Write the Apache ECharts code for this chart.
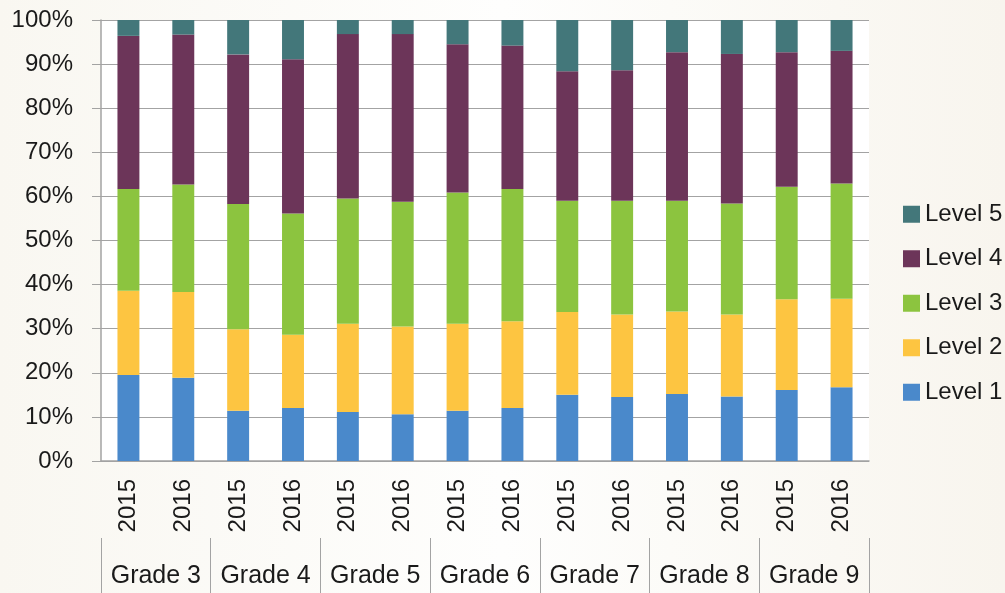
<!DOCTYPE html>
<html>
<head>
<meta charset="utf-8">
<script src="https://cdn.jsdelivr.net/npm/echarts@6/dist/echarts.min.js"></script>
<style>
  html, body { margin: 0; padding: 0; }
  #main { width: 1005px; height: 593px; }
</style>
</head>
<body>
<div id="main"></div>
<script>
var grades = ['Grade 3', 'Grade 4', 'Grade 5', 'Grade 6', 'Grade 7', 'Grade 8', 'Grade 9'];
var years = ['2015', '2016'];
var yTicks = [0, 10, 20, 30, 40, 50, 60, 70, 80, 90, 100];

// percent of students per level, one value per grade/year bar
var level1 = [19.5, 18.9, 11.4, 12.0, 11.1, 10.6, 11.4, 12.0, 15.0, 14.5, 15.2, 14.6, 16.1, 16.7];
var level2 = [19.1, 19.4, 18.5, 16.6, 20.0, 19.9, 19.7, 19.7, 18.8, 18.7, 18.7, 18.6, 20.6, 20.1];
var level3 = [23.1, 24.4, 28.4, 27.5, 28.4, 28.3, 29.8, 30.0, 25.2, 25.8, 25.1, 25.2, 25.5, 26.1];
var level4 = [34.7, 34.0, 33.9, 35.0, 37.3, 38.0, 33.6, 32.5, 29.4, 29.6, 33.7, 33.9, 30.5, 30.1];
var level5 = [3.6, 3.3, 7.8, 8.9, 3.2, 3.2, 5.5, 5.8, 11.6, 11.4, 7.3, 7.7, 7.3, 7.0];

var levelNames = ['Level 1', 'Level 2', 'Level 3', 'Level 4', 'Level 5'];
var levelColors = ['#4a89cb', '#fdc541', '#8cc43f', '#6c3559', '#43777a'];
var levelData = [level1, level2, level3, level4, level5];

var bars = [];
grades.forEach(function (g) {
  years.forEach(function (y) { bars.push(y); });
});

var font = '"Liberation Sans", Arial, sans-serif';
var gray = '#a3a3a3';

var myChart = echarts.init(document.getElementById('main'));
myChart.setOption({
  backgroundColor: {
    type: 'linear', x: 0, y: 0, x2: 1, y2: 0,
    colorStops: [
      { offset: 0, color: '#f9f7f1' },
      { offset: 0.5, color: '#fefefd' },
      { offset: 1, color: '#f8f5ee' }
    ]
  },
  animation: false,
  grid: {
    left: 101, right: 136, top: 20, bottom: 132,
    show: true, backgroundColor: '#ffffff', borderWidth: 0
  },
  legend: {
    orient: 'vertical',
    left: 898,
    top: 197,
    itemWidth: 17,
    itemHeight: 17,
    itemGap: 20,
    icon: 'rect',
    data: levelNames.slice().reverse(),
    textStyle: { fontFamily: font, fontSize: 24, color: '#1a1a1a', lineHeight: 24.5 }
  },
  xAxis: [{
    type: 'category',
    data: bars,
    axisLine: { lineStyle: { color: gray, width: 1.5 } },
    axisTick: { length: 77, lineStyle: { color: gray } },
    axisLabel: {
      interval: 0, rotate: 90, margin: 18,
      fontFamily: font, fontSize: 24, color: '#1a1a1a'
    }
  }, {
    type: 'category',
    data: grades,
    position: 'bottom',
    offset: 77,
    axisLine: { show: false },
    axisTick: { show: true, length: 60, lineStyle: { color: gray } },
    axisLabel: {
      interval: 0, margin: 26,
      fontFamily: font, fontSize: 25, color: '#1a1a1a'
    }
  }],
  yAxis: {
    type: 'value',
    min: yTicks[0],
    max: yTicks[yTicks.length - 1],
    interval: 10,
    axisLine: { show: true, lineStyle: { color: gray, width: 1.5 } },
    axisTick: { show: true, length: 9, lineStyle: { color: gray } },
    splitLine: { lineStyle: { color: gray } },
    axisLabel: {
      formatter: '{value}%', margin: 28,
      fontFamily: font, fontSize: 24, color: '#1a1a1a'
    }
  },
  series: levelNames.map(function (name, i) {
    return {
      name: name,
      type: 'bar',
      stack: 'levels',
      barWidth: '40%',
      itemStyle: { color: levelColors[i] },
      data: levelData[i]
    };
  })
});
</script>
</body>
</html>
